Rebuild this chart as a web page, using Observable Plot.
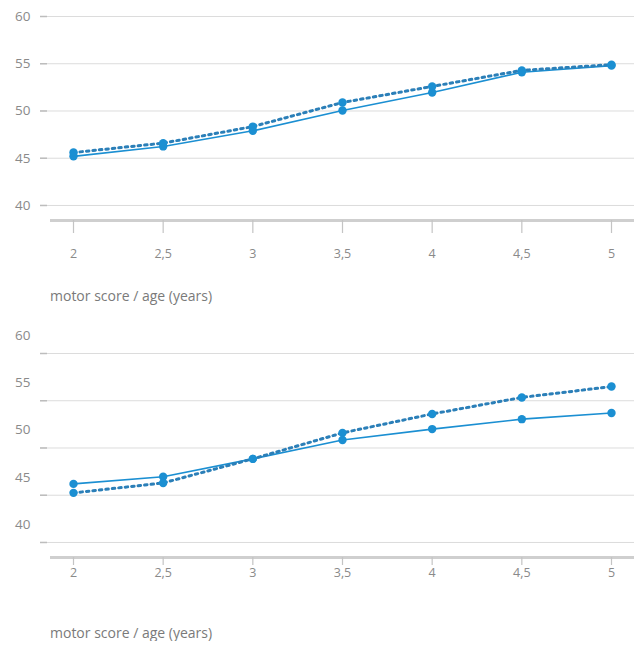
<!DOCTYPE html>
<html><head><meta charset="utf-8">
<script src="https://cdn.jsdelivr.net/npm/d3@7"></script>
<script src="https://cdn.jsdelivr.net/npm/@observablehq/plot@0.6"></script>
<style>
body{margin:0;background:#fff;font-family:"Open Sans",Lato,sans-serif;}
.cap{font-size:14px;color:#7a7a7a;margin-left:50px;line-height:16px;height:16px;margin-top:18px;}
</style></head><body><div id="c"></div>
<script>
const ages = [2, 2.5, 3, 3.5, 4, 4.5, 5];
const xTickLabels = ["2", "2,5", "3", "3,5", "4", "4,5", "5"];
const yTicks = [40, 45, 50, 55, 60];
const topSolid  = [45.2, 46.25, 47.9, 50.05, 51.95, 54.1, 54.8];
const topDotted = [45.6, 46.6, 48.35, 50.9, 52.6, 54.3, 54.9];
const botSolid  = [46.2, 46.95, 48.85, 50.85, 52.0, 53.05, 53.7];
const botDotted = [45.25, 46.3, 48.85, 51.6, 53.6, 55.35, 56.5];
const caption = "motor score / age (years)";

const blue = "#1b8fd2";
const yBase = 38.41;

function panel(solid, dotted, o) {
  const rows = (vals) => ages.map((a, i) => ({age: a, v: vals[i]}));
  const frameH = 204;
  return Plot.plot({
    width: 634, height: o.height,
    marginLeft: 73, marginRight: 23, marginTop: o.mt, marginBottom: 50,
    x: {domain: [2, 5], axis: null},
    y: {domain: [yBase, 60], axis: null},
    style: {fontFamily: "'Open Sans', Lato, sans-serif", overflow: "visible"},
    marks: [
      Plot.ruleY(yTicks, {y: d => d, stroke: "#dcdcdc", strokeWidth: 1, insetLeft: -33, insetRight: -23}),
      Plot.ruleY(yTicks, {y: d => d, stroke: "#bdbdbd", strokeWidth: 1.5, insetLeft: -33, insetRight: 564}),
      Plot.text(yTicks, {y: d => d, text: d => String(d), frameAnchor: "left", textAnchor: "end", dx: -43, dy: o.yDy, fill: "#8a8a8a", fontSize: 13.5}),
      Plot.ruleY([yBase], {stroke: "#cfcfcf", strokeWidth: 3, insetLeft: -23, insetRight: -23}),
      Plot.ruleX(ages, {x: d => d, stroke: "#c4c4c4", strokeWidth: 1.2, insetTop: frameH, insetBottom: -o.tick}),
      Plot.text(ages, {x: d => d, text: (d, i) => xTickLabels[i], frameAnchor: "bottom", lineAnchor: "middle", dy: o.xDy, fill: "#8a8a8a", fontSize: 12.5}),
      Plot.line(rows(solid), {x: "age", y: "v", stroke: blue, strokeWidth: 1.6}),
      Plot.line(rows(dotted), {x: "age", y: "v", stroke: "#2b7fb8", strokeWidth: 3, strokeDasharray: "2.5,4"}),
      Plot.dot(rows(solid), {x: "age", y: "v", r: 4.2, fill: blue}),
      Plot.dot(rows(dotted), {x: "age", y: "v", r: 4.2, fill: blue})
    ]
  });
}

const c = document.getElementById("c");
const p1 = panel(topSolid, topDotted, {height: 270, mt: 16, yDy: 0, tick: 13, xDy: 33});
c.appendChild(p1);
const cap1 = document.createElement("div"); cap1.className = "cap"; cap1.textContent = caption; c.appendChild(cap1);
const p2 = panel(botSolid, botDotted, {height: 290, mt: 36, yDy: -18, tick: 8, xDy: 15});
p2.style.marginTop = "13px";
c.appendChild(p2);
const cap2 = document.createElement("div"); cap2.className = "cap"; cap2.textContent = caption; c.appendChild(cap2);
</script></body></html>
